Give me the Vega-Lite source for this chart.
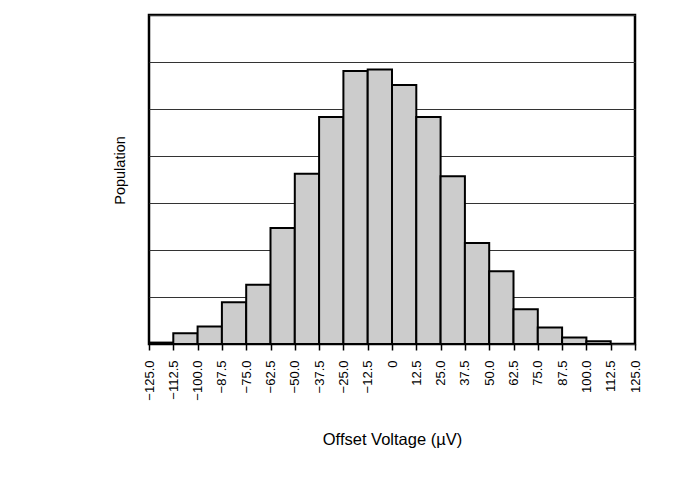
{
  "$schema": "https://vega.github.io/schema/vega-lite/v6.json",
  "autosize": {"type": "none"},
  "padding": {"left": 149, "top": 15, "right": 38, "bottom": 141},
  "width": 486,
  "height": 329,
  "background": "white",
  "config": {
    "font": "Liberation Sans",
    "view": {"stroke": "black", "strokeWidth": 2.5}
  },
  "data": {
    "values": [
      {"bin_start": -125.0, "bin_end": -112.5, "count": 3},
      {"bin_start": -112.5, "bin_end": -100.0, "count": 23},
      {"bin_start": -100.0, "bin_end": -87.5, "count": 37},
      {"bin_start": -87.5, "bin_end": -75.0, "count": 89},
      {"bin_start": -75.0, "bin_end": -62.5, "count": 126},
      {"bin_start": -62.5, "bin_end": -50.0, "count": 247},
      {"bin_start": -50.0, "bin_end": -37.5, "count": 362},
      {"bin_start": -37.5, "bin_end": -25.0, "count": 483},
      {"bin_start": -25.0, "bin_end": -12.5, "count": 581},
      {"bin_start": -12.5, "bin_end": 0.0, "count": 584},
      {"bin_start": 0.0, "bin_end": 12.5, "count": 551},
      {"bin_start": 12.5, "bin_end": 25.0, "count": 483},
      {"bin_start": 25.0, "bin_end": 37.5, "count": 357},
      {"bin_start": 37.5, "bin_end": 50.0, "count": 215},
      {"bin_start": 50.0, "bin_end": 62.5, "count": 155},
      {"bin_start": 62.5, "bin_end": 75.0, "count": 74},
      {"bin_start": 75.0, "bin_end": 87.5, "count": 35},
      {"bin_start": 87.5, "bin_end": 100.0, "count": 14},
      {"bin_start": 100.0, "bin_end": 112.5, "count": 6}
    ]
  },
  "mark": {"type": "rect", "fill": "#cccccc", "stroke": "black", "strokeWidth": 2},
  "encoding": {
    "x": {
      "field": "bin_start",
      "type": "quantitative",
      "scale": {"domain": [-125, 125], "nice": false, "zero": false},
      "axis": {
        "title": "Offset Voltage (µV)",
        "values": [-125, -112.5, -100, -87.5, -75, -62.5, -50, -37.5, -25, -12.5, 0, 12.5, 25, 37.5, 50, 62.5, 75, 87.5, 100, 112.5, 125],
        "labelExpr": "datum.value == 0 ? '0' : format(datum.value, '.1f')",
        "labelAngle": -90,
        "labelFontSize": 13,
        "labelColor": "black",
        "labelPadding": 10,
        "labelOverlap": false,
        "labelBound": false,
        "labelFlush": false,
        "ticks": true,
        "tickSize": 6,
        "tickWidth": 1.5,
        "tickColor": "black",
        "domain": false,
        "grid": false,
        "titleFontSize": 16.5,
        "titleFontWeight": "normal",
        "titleColor": "black",
        "titlePadding": 31
      }
    },
    "x2": {"field": "bin_end"},
    "y": {
      "field": "count",
      "type": "quantitative",
      "scale": {"domain": [0, 700], "nice": false},
      "axis": {
        "title": "Population",
        "values": [0, 100, 200, 300, 400, 500, 600, 700],
        "labels": false,
        "ticks": false,
        "domain": false,
        "grid": true,
        "gridColor": "#333333",
        "gridWidth": 1,
        "titleFontSize": 14.5,
        "titleFontWeight": "normal",
        "titleColor": "black",
        "titlePadding": 22,
        "titleY": 155
      }
    },
    "y2": {"datum": 0}
  }
}
